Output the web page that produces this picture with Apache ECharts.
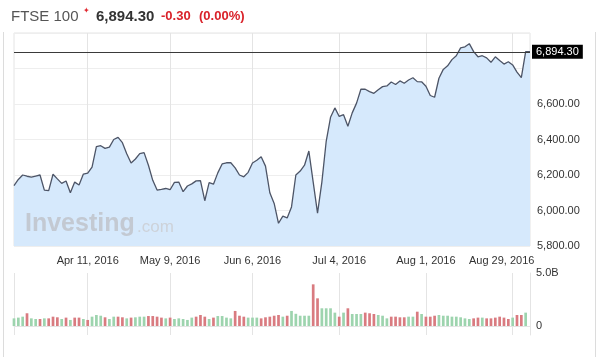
<!DOCTYPE html>
<html><head><meta charset="utf-8">
<script src="https://cdn.jsdelivr.net/npm/echarts@6/dist/echarts.min.js"></script>
<style>html,body{margin:0;padding:0;background:#fff}#c{width:600px;height:357px}</style>
</head><body><div id="c"></div>
<script>
const dates = ['2016-03-15','2016-03-16','2016-03-17','2016-03-18','2016-03-21','2016-03-22','2016-03-23','2016-03-24','2016-03-29','2016-03-30',
'2016-03-31','2016-04-01','2016-04-04','2016-04-05','2016-04-06','2016-04-07','2016-04-08','2016-04-11','2016-04-12','2016-04-13',
'2016-04-14','2016-04-15','2016-04-18','2016-04-19','2016-04-20','2016-04-21','2016-04-22','2016-04-25','2016-04-26','2016-04-27',
'2016-04-28','2016-04-29','2016-05-03','2016-05-04','2016-05-05','2016-05-06','2016-05-09','2016-05-10','2016-05-11','2016-05-12',
'2016-05-13','2016-05-16','2016-05-17','2016-05-18','2016-05-19','2016-05-20','2016-05-23','2016-05-24','2016-05-25','2016-05-26',
'2016-05-27','2016-05-31','2016-06-01','2016-06-02','2016-06-03','2016-06-06','2016-06-07','2016-06-08','2016-06-09','2016-06-10',
'2016-06-13','2016-06-14','2016-06-15','2016-06-16','2016-06-17','2016-06-20','2016-06-21','2016-06-22','2016-06-23','2016-06-24',
'2016-06-27','2016-06-28','2016-06-29','2016-06-30','2016-07-01','2016-07-04','2016-07-05','2016-07-06','2016-07-07','2016-07-08',
'2016-07-11','2016-07-12','2016-07-13','2016-07-14','2016-07-15','2016-07-18','2016-07-19','2016-07-20','2016-07-21','2016-07-22',
'2016-07-25','2016-07-26','2016-07-27','2016-07-28','2016-07-29','2016-08-01','2016-08-02','2016-08-03','2016-08-04','2016-08-05',
'2016-08-08','2016-08-09','2016-08-10','2016-08-11','2016-08-12','2016-08-15','2016-08-16','2016-08-17','2016-08-18','2016-08-19',
'2016-08-22','2016-08-23','2016-08-24','2016-08-25','2016-08-26','2016-08-30','2016-08-31','2016-09-01','2016-09-02','2016-09-05'];

const prices = [6140,6175,6200,6193,6188,6194,6200,6115,6112,6204,
6178,6153,6166,6100,6160,6144,6205,6210,6245,6360,
6365,6350,6357,6400,6412,6382,6320,6268,6290,6320,
6326,6255,6170,6115,6119,6124,6117,6158,6160,6106,
6138,6150,6167,6168,6055,6157,6148,6212,6262,6269,
6269,6240,6200,6190,6215,6268,6283,6303,6250,6100,
6040,5928,5968,5958,6020,6200,6222,6255,6335,6160,
5985,6160,6390,6525,6578,6530,6540,6475,6550,6605,
6683,6683,6670,6660,6680,6698,6702,6724,6710,6730,
6717,6735,6748,6726,6725,6700,6648,6638,6745,6795,
6815,6850,6872,6916,6922,6940,6895,6866,6872,6860,
6835,6866,6845,6825,6838,6820,6780,6748,6894.6,6894.3];

// volume in billions
const volumes = [0.72,0.79,0.88,1.2,0.72,0.66,0.66,0.72,0.72,0.88,
0.82,0.66,0.79,0.57,0.79,0.79,0.66,0.57,0.88,1.04,
0.97,0.82,0.66,0.88,0.88,0.82,0.72,0.79,0.82,0.88,
0.88,0.94,0.94,0.88,0.79,0.72,0.79,0.66,0.72,0.66,
0.57,0.79,0.88,1.04,0.88,0.66,0.79,0.94,0.94,0.79,
0.72,1.42,0.97,0.88,0.79,0.79,0.79,0.72,0.82,0.88,
0.97,1.04,0.88,0.97,1.42,1.15,0.97,0.97,0.97,3.93,
2.61,1.67,1.67,1.67,1.26,0.88,1.26,1.67,1.13,1.13,
1.13,1.26,1.2,1.13,1.04,0.97,0.72,0.88,0.88,0.82,
0.82,0.88,0.88,1.35,1.13,0.88,0.88,0.97,1.04,0.97,
0.97,0.88,0.88,0.82,0.72,0.66,0.72,0.79,0.79,0.72,
0.72,0.79,0.88,0.79,0.66,0.79,1.04,1.04,1.26,null];
// 1 = green (up), 0 = red (down)
const volumeUp = [1,1,1,0,1,1,0,1,0,0,
0,1,0,1,0,0,1,0,1,1,
1,0,1,1,0,0,1,0,1,1,
1,0,0,0,0,1,0,1,1,1,
1,1,0,0,0,1,0,1,1,1,
1,0,0,0,1,1,1,0,0,0,
0,0,1,0,1,1,1,1,1,0,
0,1,1,1,1,0,1,0,1,1,
1,0,0,0,1,1,1,0,0,0,
0,1,1,0,1,0,0,0,1,1,
1,1,1,1,1,1,0,0,1,0,
0,0,0,0,0,1,0,0,1,1];

const tickDates = ['2016-04-11','2016-05-09','2016-06-06','2016-07-04','2016-08-01','2016-08-30'];
const tickLabels = ['Apr 11, 2016','May 9, 2016','Jun 6, 2016','Jul 4, 2016','Aug 1, 2016','Aug 29, 2016'];
const lastPrice = 6894.30;

const FONT = 'Arial, "Liberation Sans", sans-serif';
const tickIdx = tickDates.map(d => dates.indexOf(d));
const fmt = v => v.toLocaleString('en-US', {minimumFractionDigits: 2, maximumFractionDigits: 2});

const chart = echarts.init(document.getElementById('c'));
chart.setOption({
  animation: false,
  textStyle: {fontFamily: FONT},
  grid: [
    {left: 14, right: 70, top: 33, height: 213, show: true, borderColor: '#e4e4e4', borderWidth: 1},
    {left: 14, right: 70, top: 273, height: 62, show: false}
  ],
  xAxis: [
    {type: 'category', gridIndex: 0, data: dates, boundaryGap: false,
     axisLine: {show: false}, axisTick: {show: false},
     axisLabel: {interval: (i) => tickIdx.includes(i), margin: 9, color: '#333', fontSize: 11,
       formatter: (v, i) => { const k = tickDates.indexOf(v); if (k < 0) return ''; return k === tickDates.length - 1 ? '{r|' + tickLabels[k] + '}' : tickLabels[k]; },
       rich: {r: {fontSize: 11, color: '#333', padding: [0, 22, 0, 0], fontFamily: FONT}}},
     splitLine: {show: true, interval: (i) => tickIdx.includes(i), lineStyle: {color: '#e4e4e4'}}},
    {type: 'category', gridIndex: 1, data: dates, boundaryGap: false, position: 'top',
     axisLine: {show: true, lineStyle: {color: '#e4e4e4'}}, axisTick: {show: false}, axisLabel: {show: false},
     splitLine: {show: true, interval: (i) => i === 0 || tickIdx.includes(i), lineStyle: {color: '#e4e4e4'}}}
  ],
  yAxis: [
    {type: 'value', gridIndex: 0, position: 'right', min: 5800, max: 7000, interval: 200,
     axisLine: {show: false}, axisTick: {show: false},
     axisLabel: {margin: 7, color: '#333', fontSize: 11, formatter: v => (v >= 6800 ? '' : fmt(v))},
     splitLine: {lineStyle: {color: '#eeeeee'}}},
    {type: 'value', gridIndex: 1, position: 'right', min: -0.85, max: 5,
     axisLine: {show: true, lineStyle: {color: '#e4e4e4'}}, axisTick: {show: false},
     axisLabel: {customValues: [0, 5], margin: 6, color: '#333', fontSize: 11, formatter: v => (v === 0 ? '0' : v.toFixed(1) + 'B')},
     splitLine: {show: false}}
  ],
  series: [
    {type: 'line', xAxisIndex: 0, yAxisIndex: 0, data: prices, symbol: 'none',
     lineStyle: {color: '#4d5567', width: 1.3}, areaStyle: {color: '#d6e9fc', opacity: 1},
     markLine: {silent: true, symbol: ['none', 'none'],
       lineStyle: {color: '#3a3a3a', width: 1, type: 'solid'},
       label: {position: 'end', distance: 2, formatter: () => fmt(lastPrice), color: '#fff', backgroundColor: '#000',
               padding: [2, 4, 1, 4], fontSize: 11, fontFamily: FONT},
       data: [{yAxis: lastPrice}]}},
    {type: 'bar', xAxisIndex: 1, yAxisIndex: 1, barWidth: 2.7,
     data: volumes.map((v, i) => ({value: v, itemStyle: {color: volumeUp[i] ? '#9dd4ae' : '#d97b80'}}))}
  ],
  graphic: [
    {type: 'text', left: 11, top: 9, style: {text: 'FTSE 100', font: '15px ' + FONT, fill: '#555'}},
    {type: 'text', left: 83, top: 7, style: {text: '✦', font: '8px ' + FONT, fill: '#e0262e'}},
    {type: 'text', left: 96, top: 9, style: {text: '6,894.30', font: 'bold 15px ' + FONT, fill: '#333'}},
    {type: 'text', left: 161, top: 10, style: {text: '-0.30', font: 'bold 13px ' + FONT, fill: '#d9222a'}},
    {type: 'text', left: 199, top: 10, style: {text: '(0.00%)', font: 'bold 13px ' + FONT, fill: '#d9222a'}},
    {type: 'text', left: 25, top: 212, z: 10, style: {text: 'Investing', font: 'bold 25px ' + FONT, fill: '#c3c9d2'}},
    {type: 'text', left: 137, top: 219, z: 10, style: {text: '.com', font: '17px ' + FONT, fill: '#cdd2d9'}},
    {type: 'line', shape: {x1: 3.5, y1: 32, x2: 3.5, y2: 357}, style: {stroke: '#dcdcdc', lineWidth: 1}},
    {type: 'line', shape: {x1: 595.5, y1: 32, x2: 595.5, y2: 357}, style: {stroke: '#dcdcdc', lineWidth: 1}}
  ]
});
</script></body></html>
